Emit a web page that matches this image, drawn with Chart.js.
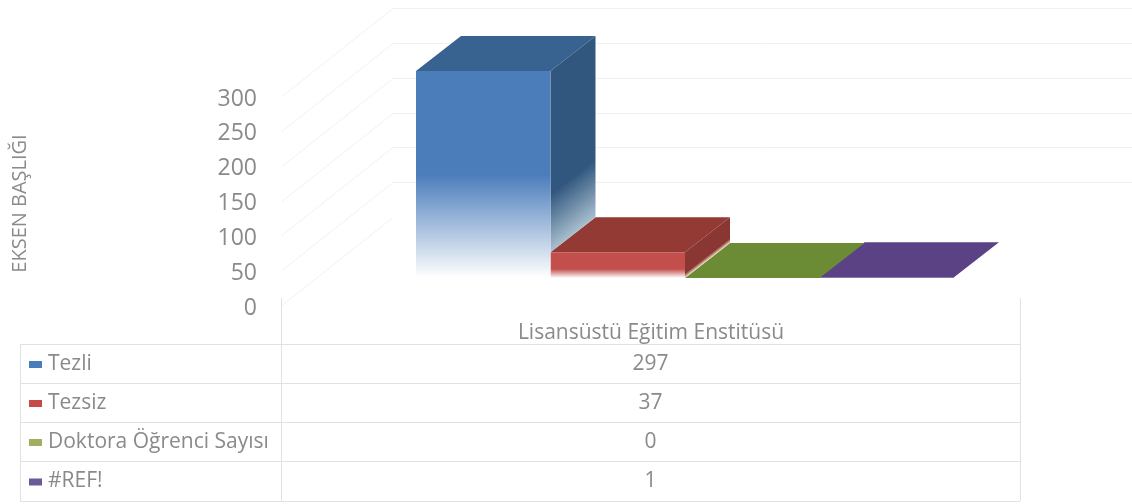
<!DOCTYPE html>
<html>
<head>
<meta charset="utf-8">
<script src="https://cdn.jsdelivr.net/npm/chart.js@4"></script>
<style>
  html, body { margin: 0; padding: 0; background: #fff; }
  #wrap { width: 1132px; height: 504px; }
  canvas { filter: blur(0.5px); }
</style>
</head>
<body>
<div id="wrap"><canvas id="chart" width="1132" height="504"></canvas></div>
<script>
const categories = ['Lisansüstü Eğitim Enstitüsü'];
const seriesNames = ['Tezli', 'Tezsiz', 'Doktora Öğrenci Sayısı', '#REF!'];
const tezli = [297];
const tezsiz = [37];
const doktora = [0];
const ref = [1];
const axisTitle = 'EKSEN BAŞLIĞI';

const frontColors = ['#4b7dbb', '#c24f4b', '#9bbb59', '#6a5a9a'];
const topColors = ['#38628f', '#943a34', '#6b8b34', '#5a4285'];
const sideColors = ['#31577f', '#8a3632', '#6b8b34', '#4a3570'];
const sideFade = ['#a9bfcf', '#efe0c8', '#6b8b34', '#5a4285'];
const keyColors = ['#4a7ebb', '#c64a48', '#a0b060', '#6a5a9a'];
const fadeStart = [0.5, 0.65, 0.5, 0.5];
const sideFadeStart = [0.68, 0.82, 0.6, 0.6];

const textColor = '#8a8a8a';
const fontFamily = '"Open Sans", sans-serif';

// oblique offsets: bars sit part way into the floor, depth is the bar's own depth
const barShift = { x: 34, y: -30 };
const barDepth = { x: 45, y: -35 };
const wallDepth = { x: 111, y: -88 };
const wallLift = 3; // tick labels sit a little under the wall lines

function frontGradient(context) {
  const chart = context.chart;
  const i = context.datasetIndex;
  const y = chart.scales.y;
  if (!y || !chart.chartArea || context.raw === undefined) return frontColors[i];
  const top = y.getPixelForValue(context.raw);
  const bottom = y.getPixelForValue(0);
  if (!isFinite(top) || !isFinite(bottom) || bottom - top < 1) return frontColors[i];
  const g = chart.ctx.createLinearGradient(0, top, 0, bottom);
  g.addColorStop(0, frontColors[i]);
  g.addColorStop(fadeStart[i], frontColors[i]);
  g.addColorStop(1, '#ffffff');
  return g;
}

const wallPlugin = {
  id: 'walls',
  beforeDatasetsDraw(chart) {
    const ctx = chart.ctx;
    const y = chart.scales.y;
    const left = chart.chartArea.left;
    ctx.save();
    ctx.strokeStyle = '#f1f1f1';
    ctx.lineWidth = 1;
    y.ticks.forEach(t => {
      const py = Math.round(y.getPixelForValue(t.value)) - wallLift + 0.5;
      ctx.beginPath();
      ctx.moveTo(left, py);
      ctx.lineTo(left + wallDepth.x, py + wallDepth.y);
      if (t.value > 0) ctx.lineTo(chart.width, py + wallDepth.y);
      ctx.stroke();
    });
    ctx.restore();
  }
};

const depthPlugin = {
  id: 'depth',
  beforeDatasetDraw(chart, args) {
    const ctx = chart.ctx;
    const i = args.index;
    const el = args.meta.data[0];
    const x0 = el.x - el.width / 2 + barShift.x;
    const x1 = el.x + el.width / 2 + barShift.x;
    const yt = el.y + barShift.y;
    // the next bar hides the lower part of this side face
    const next = chart.getDatasetMeta(i + 1);
    const yb = (next && next.data.length ? next.data[0].y : el.base) + barShift.y;

    // top face
    ctx.save();
    ctx.fillStyle = topColors[i];
    ctx.beginPath();
    ctx.moveTo(x0, yt);
    ctx.lineTo(x0 + barDepth.x, yt + barDepth.y);
    ctx.lineTo(x1 + barDepth.x, yt + barDepth.y);
    ctx.lineTo(x1, yt);
    ctx.closePath();
    ctx.fill();

    // side face, sheared so the fade runs along the slanted floor edge
    if (yb - yt > 1) {
      ctx.translate(x1, 0);
      ctx.transform(1, barDepth.y / barDepth.x, 0, 1, 0, 0);
      const g = ctx.createLinearGradient(0, yt, 0, yb);
      g.addColorStop(0, sideColors[i]);
      g.addColorStop(sideFadeStart[i], sideColors[i]);
      g.addColorStop(1, sideFade[i]);
      ctx.fillStyle = g;
      ctx.fillRect(0, yt, barDepth.x, yb - yt);
    }
    ctx.restore();

    // the library draws the front face at the shifted spot
    ctx.save();
    ctx.translate(barShift.x, barShift.y);
  },
  afterDatasetDraw(chart) {
    chart.ctx.restore();
  }
};

const tablePlugin = {
  id: 'dataTable',
  afterDraw(chart) {
    const ctx = chart.ctx;
    const colLeft = 20, colMid = 281, colRight = 1020;
    const rows = [344, 383, 422, 461, 501];
    const headTop = 298;
    ctx.save();
    ctx.strokeStyle = '#e2e2e2';
    ctx.lineWidth = 1;
    ctx.beginPath();
    rows.forEach(r => {
      ctx.moveTo(colLeft, r + 0.5);
      ctx.lineTo(colRight, r + 0.5);
    });
    ctx.moveTo(colLeft + 0.5, rows[0]);
    ctx.lineTo(colLeft + 0.5, rows[4]);
    ctx.moveTo(colMid + 0.5, headTop);
    ctx.lineTo(colMid + 0.5, rows[4]);
    ctx.moveTo(colRight + 0.5, headTop);
    ctx.lineTo(colRight + 0.5, rows[4]);
    ctx.stroke();

    ctx.font = '21px ' + fontFamily;
    ctx.textBaseline = 'middle';
    chart.data.datasets.forEach((ds, i) => {
      const cy = (rows[i] + rows[i + 1]) / 2 + 0.5;
      ctx.fillStyle = keyColors[i];
      ctx.fillRect(29, cy - 3, 13, 7);
      ctx.fillStyle = textColor;
      ctx.textAlign = 'left';
      ctx.fillText(ds.label, 48, cy);
      ctx.textAlign = 'center';
      ctx.fillText(String(ds.data[0]), (colMid + colRight) / 2, cy);
    });
    ctx.restore();
  }
};

new Chart(document.getElementById('chart'), {
  type: 'bar',
  data: {
    labels: categories,
    datasets: [tezli, tezsiz, doktora, ref].map((values, i) => ({
      label: seriesNames[i],
      data: values,
      backgroundColor: frontGradient,
      borderWidth: 0,
      clip: false,
      barPercentage: 1,
      categoryPercentage: 0.729
    }))
  },
  options: {
    responsive: false,
    animation: false,
    layout: { autoPadding: false, padding: { left: 0, top: 99, right: 112, bottom: 0 } },
    plugins: { legend: { display: false }, tooltip: { enabled: false } },
    scales: {
      x: {
        afterFit: s => { s.height = 196; },
        grid: { display: false, drawTicks: false },
        border: { display: false },
        ticks: { color: textColor, padding: 12, font: { family: fontFamily, size: 21 } }
      },
      y: {
        min: 0,
        max: 300,
        afterFit: s => { s.width = 282; },
        grid: { display: false, drawTicks: false },
        border: { display: false },
        ticks: { stepSize: 50, color: textColor, padding: 25, font: { family: fontFamily, size: 23 } },
        title: {
          display: true,
          text: axisTitle,
          color: textColor,
          padding: { top: 8, bottom: 0 },
          font: { family: fontFamily, size: 20 }
        }
      }
    }
  },
  plugins: [wallPlugin, depthPlugin, tablePlugin]
});
</script>
</body>
</html>
